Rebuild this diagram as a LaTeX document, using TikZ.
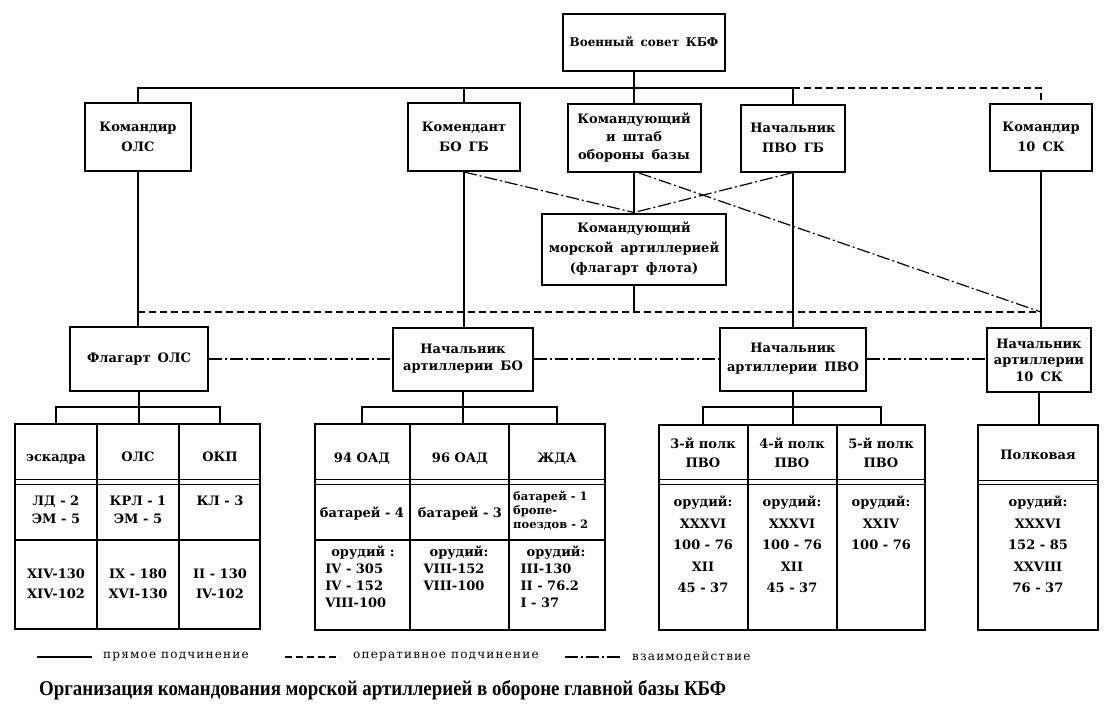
\documentclass[tikz,border=0pt]{standalone}
\usepackage{fontspec}
\setmainfont{DejaVu Serif}
\newfontfamily\titlefont[FakeStretch=0.9]{Liberation Serif}
\newfontfamily\legendfont[LetterSpace=10]{DejaVu Serif}
\usetikzlibrary{positioning}
\newcommand\wordgap{\spaceskip 0.55em plus 0.1em\relax}

\tikzset{
  box/.style={draw, line width=2pt, align=center, inner sep=0pt, font={\fontsize{13}{20}\selectfont\bfseries\wordgap}},
  cell/.style={align=center, inner sep=0pt, font=\fontsize{13}{17}\selectfont\bfseries},
  link/.style={line width=1.2pt},
  oper/.style={line width=1.2pt, dash pattern=on 7pt off 4pt},
  inter/.style={line width=1.2pt, dash pattern=on 13pt off 3pt on 2pt off 3pt},
  tab/.style={line width=2pt},
  rule/.style={line width=1.1pt},
  legend/.style={anchor=west, inner sep=0pt, font=\legendfont\fontsize{12}{14}\selectfont}
}

\begin{document}
\begin{tikzpicture}[x=1pt,y=-1pt]
\useasboundingbox[fill=white] (0,0) rectangle (1110,710);

% command boxes
\node[box, minimum width=162pt, minimum height=57pt, font={\fontsize{12}{20}\selectfont\bfseries\wordgap}] (voen) at (644,42) {Военный совет КБФ};
\node[box, minimum width=106pt, minimum height=68pt] (kols) at (138,137) {Командир\\ОЛС};
\node[box, minimum width=112pt, minimum height=68pt] (kombo) at (464,137) {Комендант\\БО ГБ};
\node[box, minimum width=133pt, minimum height=68pt, font={\fontsize{13}{18}\selectfont\bfseries\wordgap}] (komshtab) at (634,138) {Командующий\\и штаб\\обороны базы};
\node[box, minimum width=104pt, minimum height=67pt] (nachpvo) at (793,138) {Начальник\\ПВО ГБ};
\node[box, minimum width=102pt, minimum height=67pt] (kom10) at (1041,137) {Командир\\10 СК};
\node[box, minimum width=184pt, minimum height=71pt] (komart) at (634,249) {Командующий\\морской артиллерией\\(флагарт флота)};

% chiefs of artillery
\node[box, minimum width=138pt, minimum height=64pt] (flols) at (139,359) {Флагарт ОЛС};
\node[box, minimum width=140pt, minimum height=63pt, font={\fontsize{13}{17}\selectfont\bfseries\wordgap}] (nachbo) at (463,359) {Начальник\\артиллерии БО};
\node[box, minimum width=146pt, minimum height=63pt, font={\fontsize{13}{19}\selectfont\bfseries\wordgap}] (nachpvo2) at (793,359) {Начальник\\артиллерии ПВО};
\node[box, minimum width=104pt, minimum height=64pt, font={\fontsize{13}{16.5}\selectfont\bfseries\wordgap}] (nach10) at (1039,360) {Начальник\\артиллерии\\10 СК};

\coordinate (bus) at (0,88);
\coordinate (opbus) at (0,312);
\coordinate (ttop) at (0,424);

% direct subordination
\draw[link] (kols.north) |- (bus -| nachpvo.north) -- (nachpvo.north);
\draw[link] (kombo.north) -- (kombo.north |- bus);
\draw[link] (voen.south -| komshtab.north) -- (komshtab.north);
\draw[link] (kols.south) -- (flols.north -| kols.south);
\draw[link] (kombo.south) -- (nachbo.north -| kombo.south);
\draw[link] (komshtab.south) -- (komart.north);
\draw[link] (nachpvo.south) -- (nachpvo2.north -| nachpvo.south);
\draw[link] (kom10.south) -- (nach10.north -| kom10.south);
\draw[link] (komart.south) -- (komart.south |- opbus);

% operative subordination
\draw[oper] (nachpvo.north |- bus) -| (kom10.north);
\draw[oper] (opbus -| kols.south) -- (opbus -| kom10.south);

% interaction
\draw[inter] (kombo.south) -- (komart.north);
\draw[inter] (nachpvo.south) -- (komart.north);
\draw[inter] ([xshift=5pt]komshtab.south) -- (opbus -| kom10.south);
\draw[inter] (flols.east) -- (flols.east -| nachbo.west);
\draw[inter] (nachbo.east) -- (nachbo.east -| nachpvo2.west);
\draw[inter] (nachpvo2.east) -- (nachpvo2.east -| nach10.west);

% table OLS
\draw[tab] (15,424) rectangle (260,629);
\draw[rule] (97,424) -- (97,629) (179,424) -- (179,629) (15,540) -- (260,540);
\draw[line width=0.9pt] (15,479) -- (260,479) (15,484) -- (260,484);
\node[cell, anchor=base] (h11) at (56,461) {эскадра};
\node[cell, anchor=base] (h12) at (138,461) {ОЛС};
\node[cell, anchor=base] (h13) at (220,461) {ОКП};
\node[cell, anchor=north, font=\fontsize{13}{18}\selectfont\bfseries] (c11) at (56,496) {ЛД - 2\\ЭМ - 5};
\node[cell, anchor=north, font=\fontsize{13}{18}\selectfont\bfseries] (c12) at (138,496) {КРЛ - 1\\ЭМ - 5};
\node[cell, anchor=north] (c13) at (220,496) {КЛ - 3};
\node[cell, anchor=north, font=\fontsize{13}{20}\selectfont\bfseries] (d11) at (56,569) {XIV-130\\XIV-102};
\node[cell, anchor=north, font=\fontsize{13}{20}\selectfont\bfseries] (d12) at (138,569) {IX - 180\\XVI-130};
\node[cell, anchor=north, font=\fontsize{13}{20}\selectfont\bfseries] (d13) at (220,569) {II - 130\\IV-102};
\draw[link] (h11 |- ttop) -- ++(0,-17) -| (h13 |- ttop);
\draw[link] (flols.south) -- (flols.south |- ttop);

% table BO
\draw[tab] (315,424) rectangle (605,630);
\draw[rule] (410,424) -- (410,630) (509,424) -- (509,630) (315,540) -- (605,540);
\draw[line width=0.9pt] (315,479) -- (605,479) (315,484) -- (605,484);
\node[cell, anchor=base] (h21) at (362,462) {94 ОАД};
\node[cell, anchor=base] (h22) at (460,462) {96 ОАД};
\node[cell, anchor=base] (h23) at (557,462) {ЖДА};
\node[cell, anchor=base] (c21) at (362,517) {батарей - 4};
\node[cell, anchor=base] (c22) at (460,517) {батарей - 3};
\node[cell, anchor=north west, align=left, font=\fontsize{11.5}{14}\selectfont\bfseries] (c23) at (513,491) {батарей - 1\\бропе-\\поездов - 2};
\node[cell, anchor=north, align=left] (d21) at (360,546) {\hspace*{6pt}орудий :\\IV - 305\\IV - 152\\VIII-100};
\node[cell, anchor=north, align=left] (d22) at (456,546) {\hspace*{6pt}орудий:\\VIII-152\\VIII-100};
\node[cell, anchor=north, align=left] (d23) at (553,546) {\hspace*{6pt}орудий:\\III-130\\II - 76.2\\I - 37};
\draw[link] (h21 |- ttop) -- ++(0,-17) -| (h23 |- ttop);
\draw[link] (nachbo.south) -- (nachbo.south |- ttop);

% table PVO
\draw[tab] (659,425) rectangle (925,630);
\draw[rule] (748,425) -- (748,630) (837,425) -- (837,630);
\draw[line width=0.9pt] (659,479) -- (925,479) (659,484) -- (925,484);
\node[cell, anchor=north, font=\fontsize{13}{19}\selectfont\bfseries] (h31) at (703,438) {3-й полк\\ПВО};
\node[cell, anchor=north, font=\fontsize{13}{19}\selectfont\bfseries] (h32) at (792,438) {4-й полк\\ПВО};
\node[cell, anchor=north, font=\fontsize{13}{19}\selectfont\bfseries] (h33) at (881,438) {5-й полк\\ПВО};
\node[cell, anchor=north, font=\fontsize{13}{21.5}\selectfont\bfseries] (d31) at (703,496) {орудий:\\XXXVI\\100 - 76\\XII\\45 - 37};
\node[cell, anchor=north, font=\fontsize{13}{21.5}\selectfont\bfseries] (d32) at (792,496) {орудий:\\XXXVI\\100 - 76\\XII\\45 - 37};
\node[cell, anchor=north, font=\fontsize{13}{21.5}\selectfont\bfseries] (d33) at (881,496) {орудий:\\XXIV\\100 - 76};
\draw[link] (h31 |- ttop) -- ++(0,-17) -| (h33 |- ttop);
\draw[link] (nachpvo2.south) -- (nachpvo2.south |- ttop);

% table 10 SK
\draw[tab] (978,425) rectangle (1098,630);
\draw[line width=0.9pt] (978,480) -- (1098,480) (978,484) -- (1098,484);
\node[cell, anchor=base] (h41) at (1038,459) {Полковая};
\node[cell, anchor=north, font=\fontsize{13}{21.5}\selectfont\bfseries] (d41) at (1038,496) {орудий:\\XXXVI\\152 - 85\\XXVIII\\76 - 37};
\draw[link] (nach10.south) -- (nach10.south |- ttop);

% legend
\node[legend] (lg1) at (103,657) {прямое подчинение};
\node[legend] (lg2) at (353,657) {оперативное подчинение};
\node[legend] (lg3) at (632,657) {взаимодействие};
\draw[link] ([xshift=-66pt]lg1.west) -- ([xshift=-11pt]lg1.west);
\draw[oper] ([xshift=-68pt]lg2.west) -- ([xshift=-13pt]lg2.west);
\draw[inter] ([xshift=-67pt]lg3.west) -- ([xshift=-12pt]lg3.west);

\node[anchor=west, inner sep=0pt, font=\titlefont\bfseries\fontsize{21}{24}\selectfont] (title) at (39,690) {Организация командования морской артиллерией в обороне главной базы КБФ};
\end{tikzpicture}
\end{document}
